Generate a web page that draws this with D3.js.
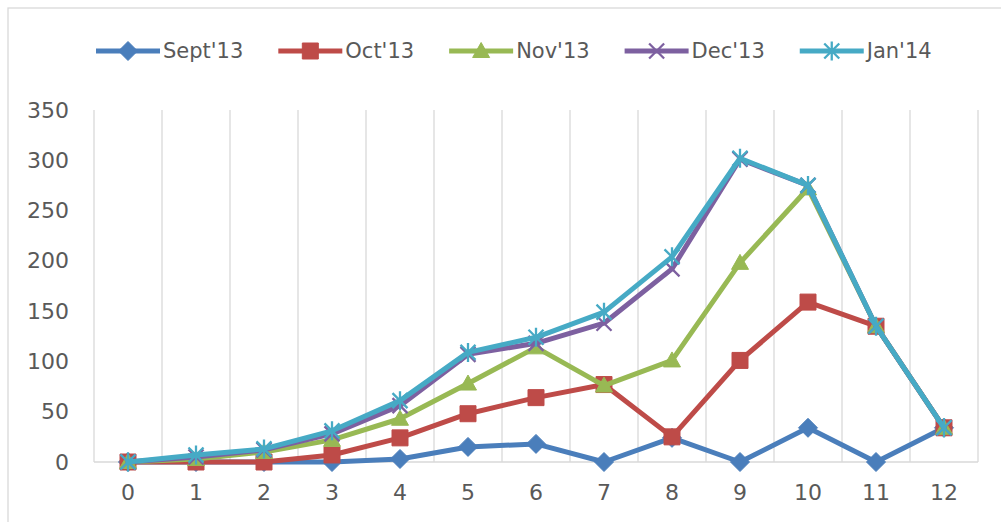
<!DOCTYPE html>
<html>
<head>
<meta charset="utf-8">
<script src="https://cdn.jsdelivr.net/npm/d3@7"></script>
<style>
  html, body { margin: 0; padding: 0; background: #fff; }
  svg { display: block; }
  text { font-family: "DejaVu Sans", sans-serif; fill: #595959; }
</style>
</head>
<body>
<svg id="chart" width="1001" height="522"></svg>
<script>
// Category values along the horizontal axis
const categories = [0, 1, 2, 3, 4, 5, 6, 7, 8, 9, 10, 11, 12];
const yTicks = [0, 50, 100, 150, 200, 250, 300, 350];

// Monthly series
const seriesNames = ["Sept'13", "Oct'13", "Nov'13", "Dec'13", "Jan'14"];
const sept13 = [0, 0, 0, 0, 3, 15, 18, 0, 24, 0, 34, 0, 34];
const oct13  = [0, 0, 0, 7, 24, 48, 64, 77, 25, 101, 159, 135, 34];
const nov13  = [0, 3, 10, 22, 43, 78, 114, 76, 101, 198, 272, 135, 34];
const dec13  = [0, 5, 12, 28, 56, 107, 118, 138, 192, 301, 275, 135, 34];
const jan14  = [0, 7, 13, 31, 61, 109, 124, 149, 204, 302, 275, 135, 34];
const seriesColors = ["#4A7EBB", "#BE4B48", "#98B954", "#7D60A0", "#46AAC5"];
const markerKinds = ["diamond", "square", "triangle", "cross", "star"];

const series = [sept13, oct13, nov13, dec13, jan14].map((vals, i) => ({
  name: seriesNames[i], values: vals, color: seriesColors[i], marker: markerKinds[i]
}));

const svg = d3.select("#chart");

// Outer chart frame
svg.append("rect")
  .attr("x", 8).attr("y", 8).attr("width", 1020).attr("height", 540)
  .attr("fill", "none").attr("stroke", "#d9d9d9").attr("stroke-width", 1.3);

const x = d3.scaleBand().domain(categories).range([94, 978]).paddingInner(0).paddingOuter(0);
const y = d3.scaleLinear().domain([0, 350]).range([462, 110]);
const cx = d => x(d) + x.bandwidth() / 2;

// Vertical gridlines at category boundaries
const bounds = categories.map(c => x(c)).concat([x.range()[1]]);
svg.append("g").selectAll("line").data(bounds).join("line")
  .attr("x1", d => d).attr("x2", d => d)
  .attr("y1", y(350)).attr("y2", y(0))
  .attr("stroke", "#d9d9d9").attr("stroke-width", 1.3);

// Horizontal axis baseline
svg.append("line")
  .attr("x1", x.range()[0]).attr("x2", x.range()[1])
  .attr("y1", y(0)).attr("y2", y(0))
  .attr("stroke", "#d9d9d9").attr("stroke-width", 1.3);

// Y axis labels
const yAxis = svg.append("g").attr("transform", `translate(${x.range()[0]},0)`)
  .call(d3.axisLeft(y).tickValues(yTicks).tickSize(0).tickPadding(25));
yAxis.select(".domain").remove();
yAxis.selectAll("text").style("font-size", "22px").attr("fill", "#595959");

// X axis labels
const xAxis = svg.append("g").attr("transform", `translate(0,${y(0)})`)
  .call(d3.axisBottom(x).tickSize(0).tickPadding(22));
xAxis.select(".domain").remove();
xAxis.selectAll("text").style("font-size", "22px").attr("fill", "#595959");

// Marker shapes
function markerPath(kind) {
  switch (kind) {
    case "diamond": return "M0,-9.5L9.5,0L0,9.5L-9.5,0Z";
    case "square": return "M-8,-8H8V8H-8Z";
    case "triangle": return "M0,-8.5L8.5,6.5H-8.5Z";
    case "cross": return "M-7.5,-7.5L7.5,7.5M-7.5,7.5L7.5,-7.5";
    case "star": return "M-7.5,-7.5L7.5,7.5M-7.5,7.5L7.5,-7.5M0,-9.5V9.5";
  }
}
function drawMarker(g, kind, color) {
  const filled = kind === "diamond" || kind === "square" || kind === "triangle";
  g.append("path")
    .attr("d", markerPath(kind))
    .attr("fill", filled ? color : "none")
    .attr("stroke", color)
    .attr("stroke-width", filled ? 1 : 2.3);
}

const line = d3.line().x((d, i) => cx(categories[i])).y(d => y(d));

series.forEach(s => {
  const g = svg.append("g");
  g.append("path")
    .attr("d", line(s.values))
    .attr("fill", "none")
    .attr("stroke", s.color)
    .attr("stroke-width", 5)
    .attr("stroke-linejoin", "round")
    .attr("stroke-linecap", "round");
  s.values.forEach((v, i) => {
    const m = g.append("g").attr("transform", `translate(${cx(categories[i])},${y(v)})`);
    drawMarker(m, s.marker, s.color);
  });
});

// Legend
const legend = svg.append("g").attr("transform", "translate(96,51)");
let lx = 0;
series.forEach(s => {
  const item = legend.append("g").attr("transform", `translate(${lx},0)`);
  item.append("line").attr("x1", 0).attr("x2", 64).attr("y1", 0).attr("y2", 0)
    .attr("stroke", s.color).attr("stroke-width", 5);
  const m = item.append("g").attr("transform", "translate(32,0)");
  drawMarker(m, s.marker, s.color);
  const t = item.append("text").attr("x", 67).attr("y", 0).attr("dy", "0.35em")
    .style("font-size", "21px").text(s.name);
  lx += 67 + t.node().getComputedTextLength() + 35;
});
</script>
</body>
</html>
